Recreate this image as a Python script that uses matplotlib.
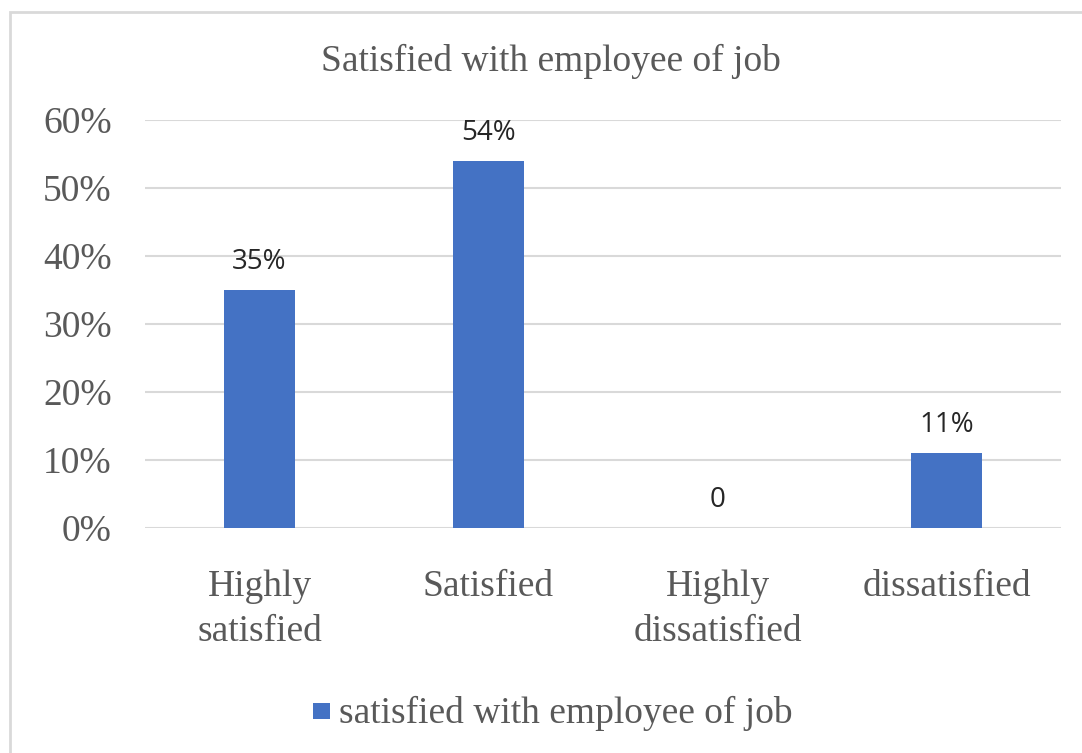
import matplotlib
matplotlib.use("Agg")
import matplotlib.pyplot as plt
from matplotlib.patches import Rectangle

categories = ["Highly\nsatisfied", "Satisfied", "Highly\ndissatisfied", "dissatisfied"]
values = [0.35, 0.54, 0.0, 0.11]
value_labels = ["35%", "54%", "0", "11%"]
yticks = [0, 0.1, 0.2, 0.3, 0.4, 0.5, 0.6]
ytick_labels = ["0%", "10%", "20%", "30%", "40%", "50%", "60%"]
title = "Satisfied with employee of job"
series_name = "satisfied with employee of job"

W, H = 1082, 753
fig = plt.figure(figsize=(W / 100, H / 100), dpi=100)
fig.patch.set_facecolor("white")

# outer chart border
fig.patches.append(Rectangle((10 / W, -0.05), 1.1, 1 - 12 / H + 0.05, transform=fig.transFigure,
                             fill=False, edgecolor="#d9d9d9", linewidth=2))

ax = fig.add_axes([145 / W, 1 - 528 / H, (1061 - 145) / W, (528 - 120) / H])
x = list(range(len(categories)))
ax.bar(x, values, width=0.31, color="#4472C4", zorder=3)
ax.set_xlim(-0.5, len(categories) - 0.5)
ax.set_ylim(0, 0.6)
ax.set_yticks(yticks)
ax.set_yticklabels(ytick_labels, fontfamily="Liberation Serif", fontsize=27, color="#595959")
ax.set_xticks(x)
ax.set_xticklabels(categories, fontfamily="Liberation Serif", fontsize=27, color="#595959",
                   linespacing=1.4)
ax.tick_params(axis="both", length=0)
ax.tick_params(axis="y", pad=24)
ax.tick_params(axis="x", pad=30)
ax.grid(axis="y", color="#d9d9d9", linewidth=1.5, zorder=0)
for s in ax.spines.values():
    s.set_visible(False)

for xi, v, lab in zip(x, values, value_labels):
    ax.annotate(lab, (xi, v), xytext=(0, 20), textcoords="offset points",
                ha="center", va="center", fontfamily="Open Sans", fontsize=20, color="#262626")

fig.text(551 / W, 1 - 61 / H, title, ha="center", va="center",
         fontfamily="Liberation Serif", fontsize=27, color="#595959")

# legend
fig.patches.append(Rectangle((313 / W, 1 - 719 / H), 17 / W, 16 / H, transform=fig.transFigure,
                             facecolor="#4472C4", edgecolor="none"))
fig.text(339 / W, 1 - 713 / H, series_name, ha="left", va="center",
         fontfamily="Liberation Serif", fontsize=27, color="#595959")

fig.savefig("out.png", dpi=100)
